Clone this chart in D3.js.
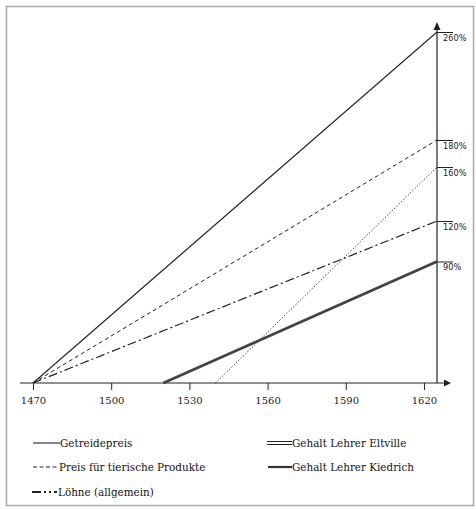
<!DOCTYPE html>
<html>
<head>
<meta charset="utf-8">
<script src="https://cdn.jsdelivr.net/npm/d3@7"></script>
<style>
  html, body { margin: 0; padding: 0; background: #fff; }
  svg { display: block; }
</style>
</head>
<body>
<svg id="chart" width="476" height="509"></svg>
<script>
// ---- data ----
const xTickYears = [1470, 1500, 1530, 1560, 1590, 1620];
const yTickValues = [90, 120, 160, 180, 260];
const yTickLabels = ["90%", "120%", "160%", "180%", "260%"];
const endYear = 1625;

const seriesNames = ["Getreidepreis", "Preis für tierische Produkte", "Löhne (allgemein)", "Gehalt Lehrer Eltville", "Gehalt Lehrer Kiedrich"];
const seriesStartYears = [1470, 1470, 1470, 1540, 1520];
const seriesStartValues = [0, 0, 0, 0, 0];
const seriesEndValues = [260, 180, 120, 160, 90];

const legendLabels = ["Getreidepreis", "Gehalt Lehrer Eltville", "Preis für tierische Produkte", "Gehalt Lehrer Kiedrich", "Löhne (allgemein)"];

// ---- layout ----
const svg = d3.select("#chart");
const x = d3.scaleLinear().domain([1470, endYear]).range([33, 437]);
const y = d3.scaleLinear().domain([0, 260]).range([383, 32]);
const ink = "#222";

// frame
svg.append("rect").attr("x", 6.5).attr("y", 6.5).attr("width", 467).attr("height", 499)
  .attr("fill", "none").attr("stroke", "#a8a8a8").attr("stroke-width", 1.5);

// x axis
const xAxisG = svg.append("g").attr("transform", `translate(0,${y(0)})`);
xAxisG.append("line").attr("x1", 20).attr("x2", 444).attr("y1", 0).attr("y2", 0)
  .attr("stroke", ink).attr("stroke-width", 1.2);
xAxisG.append("path").attr("d", "M444,-3.5L451,0L444,3.5Z").attr("fill", ink);
const xAx = d3.axisBottom(x).tickValues(xTickYears).tickFormat(d3.format("d")).tickSize(7).tickSizeOuter(0);
const xg = svg.append("g").attr("transform", `translate(0,${y(0)})`).call(xAx);
xg.select(".domain").remove();
xg.selectAll(".tick line").attr("stroke", ink).attr("stroke-width", 1);
xg.selectAll(".tick text").attr("font-family", "DejaVu Serif").attr("font-size", 10)
  .attr("fill", ink).attr("dy", "1.05em");

// y axis at end year
const yx = x(endYear);
svg.append("line").attr("x1", yx).attr("x2", yx).attr("y1", y(0)).attr("y2", 28)
  .attr("stroke", ink).attr("stroke-width", 1.2);
svg.append("path").attr("d", `M${yx - 3.5},30L${yx},22L${yx + 3.5},30Z`).attr("fill", ink);
const yAx = d3.axisRight(y).tickValues(yTickValues)
  .tickFormat((d, i) => yTickLabels[i]).tickSize(16).tickSizeOuter(0);
const yg = svg.append("g").attr("transform", `translate(${yx},0)`).call(yAx);
yg.select(".domain").remove();
yg.selectAll(".tick line").attr("stroke", ink).attr("stroke-width", 1);
yg.selectAll(".tick text").attr("x", 6).attr("dy", "1em")
  .attr("font-family", "DejaVu Sans").attr("font-size", 8.2).attr("fill", ink);

// series styles
const styles = [
  { dash: null, width: 1.1, color: ink },
  { dash: "4,3", width: 1, color: ink },
  { dash: "9,3,2,3", width: 1.2, color: ink },
  { dash: "1.2,2", width: 1, color: ink },
  { dash: null, width: 2.8, color: "#444" }
];

const line = d3.line().x(d => x(d[0])).y(d => y(d[1]));
seriesNames.forEach((name, i) => {
  const pts = [[seriesStartYears[i], seriesStartValues[i]], [endYear, seriesEndValues[i]]];
  svg.append("path").attr("d", line(pts)).attr("fill", "none")
    .attr("stroke", styles[i].color).attr("stroke-width", styles[i].width)
    .attr("stroke-dasharray", styles[i].dash);
});

// legend
const lg = svg.append("g").attr("font-family", "DejaVu Serif").attr("font-size", 10.4).attr("fill", "#111");
function legendText(tx, ty, t) {
  lg.append("text").attr("x", tx).attr("y", ty).attr("dy", "0.35em").text(t);
}
// Getreidepreis
svg.append("line").attr("x1", 33).attr("x2", 60).attr("y1", 443).attr("y2", 443).attr("stroke", ink).attr("stroke-width", 1.1);
legendText(60, 443, legendLabels[0]);
// Eltville (double)
[441.5, 444.5].forEach(yy => svg.append("line").attr("x1", 267).attr("x2", 292).attr("y1", yy).attr("y2", yy).attr("stroke", ink).attr("stroke-width", 1));
legendText(292, 443, legendLabels[1]);
// tierische
svg.append("line").attr("x1", 33).attr("x2", 57).attr("y1", 467).attr("y2", 467).attr("stroke", ink).attr("stroke-width", 1).attr("stroke-dasharray", "4,2.5");
legendText(59, 467, legendLabels[2]);
// Kiedrich
svg.append("line").attr("x1", 268).attr("x2", 292).attr("y1", 467).attr("y2", 467).attr("stroke", "#333").attr("stroke-width", 2.2);
legendText(292, 467, legendLabels[3]);
// Löhne
svg.append("line").attr("x1", 32).attr("x2", 57).attr("y1", 492).attr("y2", 492).attr("stroke", ink).attr("stroke-width", 2).attr("stroke-dasharray", "9,3,2,3,2,3");
legendText(58, 492, legendLabels[4]);
</script>
</body>
</html>
